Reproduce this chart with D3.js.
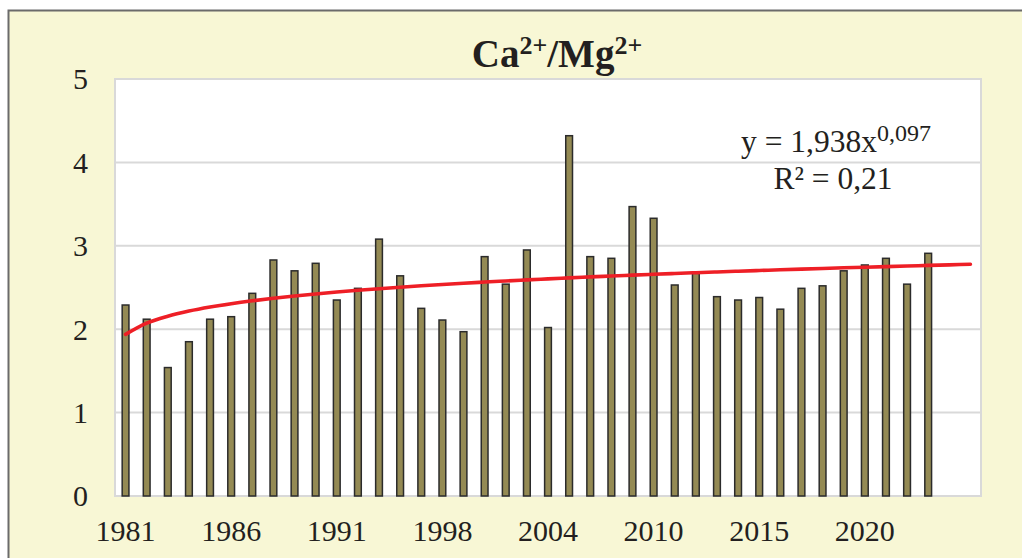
<!DOCTYPE html>
<html>
<head>
<meta charset="utf-8">
<script src="https://cdn.jsdelivr.net/npm/d3@7"></script>
<style>
  html, body { margin: 0; padding: 0; background: #ffffff; }
  svg { display: block; }
</style>
</head>
<body>
<svg id="chart" width="1022" height="558"></svg>
<script>
// Sampling years (category axis; the last two slots carry only the trend forecast)
const years = [
  1981, 1982, 1983, 1984, 1985, 1986, 1987, 1988, 1989, 1990,
  1991, 1992, 1993, 1995, 1997, 1998, 1999, 2000, 2002, 2003,
  2004, 2005, 2006, 2008, 2009, 2010, 2011, 2012, 2013, 2014,
  2015, 2016, 2017, 2018, 2019, 2020, 2021, 2022, 2023, 2024,
  2025
];

// Ca2+/Mg2+ ratio per year
const ratio = [
  2.29, 2.12, 1.54, 1.85, 2.12, 2.15, 2.43, 2.83, 2.70, 2.79,
  2.35, 2.49, 3.08, 2.64, 2.25, 2.11, 1.97, 2.87, 2.54, 2.95,
  2.02, 4.32, 2.87, 2.85, 3.47, 3.33, 2.53, 2.67, 2.39, 2.35,
  2.38, 2.24, 2.49, 2.52, 2.70, 2.77, 2.85, 2.54, 2.91
];

// Power trend y = a * x^b (x = 1..n over all category slots)
const trendA = 1.938;
const trendB = 0.097;
const trendR2 = "0,21";

const yTicks = [0, 1, 2, 3, 4, 5];
const xLabelStep = 5;

const svg = d3.select("#chart");
const W = 1022, H = 558;
const plot = { left: 115, right: 981, top: 79, bottom: 496 };
const serif = "'Liberation Serif', 'Times New Roman', serif";

// Chart background and frame
svg.append("rect").attr("x", 0).attr("y", 0).attr("width", W).attr("height", H).attr("fill", "#ffffff");
svg.append("rect")
  .attr("x", 8.5).attr("y", 10.5).attr("width", W + 20).attr("height", H + 20)
  .attr("fill", "#f8f7d5").attr("stroke", "#6b6b6b").attr("stroke-width", 2);

// Plot area
svg.append("rect")
  .attr("x", plot.left).attr("y", plot.top)
  .attr("width", plot.right - plot.left).attr("height", plot.bottom - plot.top)
  .attr("fill", "#ffffff").attr("stroke", "#d9d9d9").attr("stroke-width", 2);

const x = d3.scaleBand()
  .domain(years)
  .range([plot.left, plot.right])
  .paddingInner(0.68)
  .paddingOuter(0.34);

const y = d3.scaleLinear().domain([0, 5]).range([plot.bottom, plot.top]);

// Horizontal gridlines
svg.append("g")
  .selectAll("line")
  .data(yTicks.filter(d => d > 0 && d < 5))
  .join("line")
  .attr("x1", plot.left).attr("x2", plot.right)
  .attr("y1", d => y(d)).attr("y2", d => y(d))
  .attr("stroke", "#d9d9d9").attr("stroke-width", 2);

// Y axis labels
const yAxis = d3.axisLeft(y).tickValues(yTicks).tickSize(0).tickPadding(27).tickFormat(d3.format("d"));
const gy = svg.append("g").attr("transform", `translate(${plot.left},0)`).call(yAxis);
gy.select(".domain").remove();
gy.selectAll("text")
  .attr("font-family", serif)
  .attr("font-size", 30)
  .attr("fill", "#231f20")
  .attr("dy", "0.33em");

// X axis labels (every fifth category)
const xAxis = d3.axisBottom(x)
  .tickValues(years.filter((d, i) => i % xLabelStep === 0 && i < ratio.length))
  .tickSize(0).tickPadding(24);
const gx = svg.append("g").attr("transform", `translate(0,${plot.bottom})`).call(xAxis);
gx.select(".domain").remove();
gx.selectAll("text")
  .attr("font-family", serif)
  .attr("font-size", 30)
  .attr("fill", "#231f20");

// Bars
svg.append("g")
  .selectAll("rect")
  .data(ratio)
  .join("rect")
  .attr("x", (d, i) => x(years[i]))
  .attr("y", d => y(d))
  .attr("width", x.bandwidth())
  .attr("height", d => y(0) - y(d))
  .attr("fill", "#948a54")
  .attr("stroke", "#2b2b2b")
  .attr("stroke-width", 1.5);

// Power trendline across all slots
const trend = years.map((yr, i) => ({ yr, v: trendA * Math.pow(i + 1, trendB) }));
svg.append("path")
  .datum(trend)
  .attr("fill", "none")
  .attr("stroke", "#ee1f26")
  .attr("stroke-width", 3.6)
  .attr("stroke-linecap", "round")
  .attr("d", d3.line()
    .curve(d3.curveMonotoneX)
    .x(d => x(d.yr) + x.bandwidth() / 2)
    .y(d => y(d.v)));

// Trendline equation
const eq = svg.append("text")
  .attr("x", 836).attr("y", 152)
  .attr("text-anchor", "middle")
  .attr("font-family", serif)
  .attr("font-size", 31.5)
  .attr("fill", "#231f20");
eq.append("tspan").text("y = " + String(trendA).replace(".", ",") + "x");
eq.append("tspan").attr("dy", -11).attr("font-size", 24)
  .text(String(trendB).replace(".", ",").padEnd(5, "0"));

svg.append("text")
  .attr("x", 833).attr("y", 189)
  .attr("text-anchor", "middle")
  .attr("font-family", serif)
  .attr("font-size", 31.5)
  .attr("fill", "#231f20")
  .text("R² = " + trendR2);

// Title
const title = svg.append("text")
  .attr("x", 557).attr("y", 67)
  .attr("text-anchor", "middle")
  .attr("font-family", serif)
  .attr("font-size", 39)
  .attr("font-weight", "bold")
  .attr("fill", "#231f20");
title.append("tspan").text("Ca");
title.append("tspan").attr("dy", -13).attr("font-size", 26).text("2+");
title.append("tspan").attr("dy", 13).text("/Mg");
title.append("tspan").attr("dy", -13).attr("font-size", 26).text("2+");
</script>
</body>
</html>
